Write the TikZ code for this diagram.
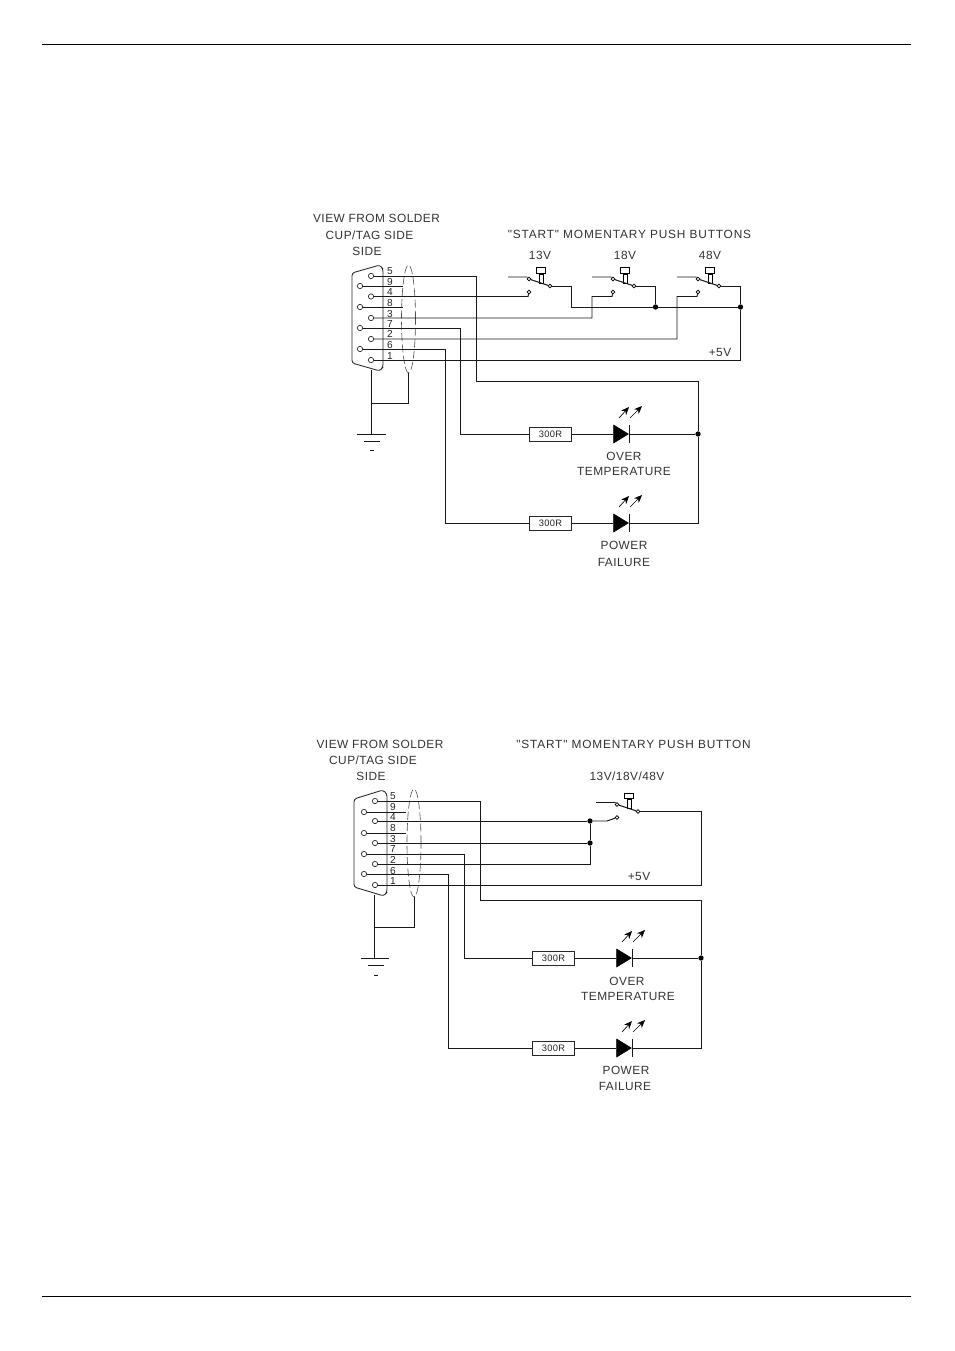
\documentclass[tikz,border=0pt]{standalone}
\usepackage{fontspec}
\newfontfamily\cadfont[LetterSpace=4]{Liberation Sans}
\newfontfamily\headfont[LetterSpace=7]{Liberation Sans}
\usetikzlibrary{shapes.geometric, arrows.meta, positioning}

\tikzset{
  wire/.style={line width=0.72pt, black!90},
  pinhole/.style={draw, circle, inner sep=0pt, minimum size=4pt, line width=0.55pt, black!80},
  pinnum/.style={font=\cadfont\fontsize{7.6}{8}\selectfont, inner sep=0pt, black!85},
  caption/.style={font=\cadfont\fontsize{8.9}{10}\selectfont, inner sep=0pt, black!80},
  headline/.style={font=\headfont\fontsize{8.9}{10}\selectfont, inner sep=0pt, black!80},
  resbox/.style={draw, line width=0.72pt, minimum width=32pt, minimum height=10.5pt, inner sep=0pt, font=\cadfont\fontsize{7}{8}\selectfont, black!85},
  shield/.style={draw, ellipse, dashed, dash pattern=on 6pt off 2.5pt, line width=0.45pt, black!70, minimum width=10.5pt, minimum height=81pt, inner sep=0pt},
  shell/.style={line width=0.65pt, black!85},
  spot/.style={fill, circle, inner sep=0pt, minimum size=4pt},
  contact/.style={draw, circle, inner sep=0pt, minimum size=2.8pt, line width=0.45pt},
  ledbody/.style={fill, draw, isosceles triangle, isosceles triangle stretches, minimum width=13.5pt, minimum height=11pt, inner sep=0pt, anchor=apex},
  knob/.style={draw, line width=0.55pt, inner sep=0pt, minimum width=7pt, minimum height=4pt},
  stem/.style={draw, line width=0.55pt, inner sep=0pt, minimum width=3pt, minimum height=7pt}
}

% name, apex x, y
\newcommand{\ledlamp}[3]{
  \begin{scope}[shift={(#2,#3)}]
    \node[ledbody] (#1) at (0,0) {};
    \coordinate (#1bt) at (0,-9);
    \coordinate (#1bb) at (0,9);
    \draw[wire] (#1bt) -- (#1bb);
    \coordinate (#1ra) at (-10,-16);
    \coordinate (#1rb) at (0,-27);
    \coordinate (#1rc) at (1,-16);
    \coordinate (#1rd) at (13,-28);
    \draw[line width=0.5pt, -{Stealth[length=6pt, width=5pt]}] (#1ra) -- (#1rb);
    \draw[line width=0.5pt, -{Stealth[length=6pt, width=5pt]}] (#1rc) -- (#1rd);
  \end{scope}
}

% name, x and y of the upper contact
\newcommand{\pushsw}[3]{
  \begin{scope}[shift={(#2,#3)}]
    \node[contact] (#1up) at (0,0) {};
    \node[contact] (#1lo) at (0,13) {};
    \node[contact] (#1pv) at (21,7) {};
    \node[knob] (#1kn) at (12,-8.5) {};
    \node[stem, below=0pt of #1kn] (#1st) {};
    \coordinate (#1in) at (-21,-2);
    \draw[wire] (#1up) -- (#1pv);
    \draw[wire] (#1in) -- (-2,-2) -- (#1up);
  \end{scope}
}

\begin{document}
\begin{tikzpicture}[x=0.75pt, y=-0.75pt]
  \fill[white] (0,0) rectangle (954,1351);
  \useasboundingbox (0,0) rectangle (954,1351);

  % page rules
  \coordinate (rulea) at (42,44);
  \coordinate (ruleb) at (911,44);
  \coordinate (rulec) at (42,1296);
  \coordinate (ruled) at (911,1296);
  \draw[wire, black] (rulea) -- (ruleb);
  \draw[wire, black] (rulec) -- (ruled);

  % upper circuit
  \node[caption] (viewa) at (376.5,218) {VIEW FROM SOLDER};
  \node[caption] (cupa) at (369.5,235) {CUP/TAG SIDE};
  \node[caption] (sidea) at (367,251) {SIDE};
  \node[headline] (starta) at (629.5,234) {"START" MOMENTARY PUSH BUTTONS};
  \node[caption] (va) at (540,255) {13V};
  \node[caption] (vb) at (625,255) {18V};
  \node[caption] (vc) at (710,255) {48V};
  \node[caption] (fivea) at (720,352) {+5V};
  \node[caption] (overa) at (624,456) {OVER};
  \node[caption] (tempa) at (624,471) {TEMPERATURE};
  \node[caption] (powa) at (624,545) {POWER};
  \node[caption] (faila) at (624,562) {FAILURE};

  \draw[shell, rounded corners=2pt] (380,265) -- (352,273) -- (352,363) -- (380,371) -- (383,367) -- (383,269) -- cycle;
  \foreach \n/\x/\y in {5/371/276, 4/371/296.5, 3/371/318, 2/371/339, 1/371/360, 9/360/286, 8/360/307, 7/360/328, 6/360/349}
    \node[pinhole] (pa\n) at (\x,\y) {};
  \foreach \n/\y in {5/271, 9/282, 4/292, 8/303, 3/314, 7/324, 2/334, 6/345, 1/356}
    \node[pinnum] (na\n) at (390,\y) {\n};
  \node[shield] (sha) at (408.5,319) {};
  \coordinate (enda9) at (403,286);
  \coordinate (enda8) at (403,307);
  \draw[wire] (pa9) -- (enda9);
  \draw[wire] (pa8) -- (enda8);

  \pushsw{swa}{529}{279}
  \pushsw{swb}{613}{279}
  \pushsw{swc}{698}{279}
  \node[spot] (ja) at (655.5,307) {};
  \node[spot] (jb) at (740.5,307) {};
  \node[spot] (jc) at (698,434) {};

  \draw[wire] (pa4) -- (528,296.5) -- (swalo);
  \draw[wire] (pa3) -- (592,318) -- (592,296.5) -- (612,296.5) -- (swblo);
  \draw[wire] (pa2) -- (677,339) -- (677,296.5) -- (697,296.5) -- (swclo);
  \draw[wire] (pa1) -- (740.5,360) -- (jb);
  \draw[wire] (swapv) -- (571.5,286) -- (571.5,307) -- (ja);
  \draw[wire] (swbpv) -- (655.5,286) -- (ja);
  \draw[wire] (swcpv) -- (740.5,286) -- (jb);
  \draw[wire] (ja) -- (jb);

  \node[resbox] (resa) at (550.5,434) {300R};
  \node[resbox] (resb) at (550.5,523) {300R};
  \ledlamp{leda}{629}{434}
  \ledlamp{ledb}{629}{523}
  \draw[wire] (pa7) -- (460.5,328) -- (460.5,434) -- (resa);
  \draw[wire] (pa6) -- (445.5,349) -- (445.5,523) -- (resb);
  \draw[wire] (resa) -- (leda.west);
  \draw[wire] (resb) -- (ledb.west);
  \draw[wire] (leda.apex) -- (jc);
  \draw[wire] (ledb.apex) -- (698,523) -- (jc);
  \draw[wire] (pa5) -- (476,276) -- (476,381) -- (698,381) -- (jc);

  \coordinate (gnda) at (371,434);
  \coordinate (sheta) at (371,370);
  \coordinate (ga1) at (357,434);
  \coordinate (ga2) at (386,434);
  \coordinate (ga3) at (364,441);
  \coordinate (ga4) at (380,441);
  \coordinate (ga5) at (370,450);
  \coordinate (ga6) at (374,450);
  \draw[wire] (sheta) -- (gnda);
  \draw[wire] (sha.south) -- (408.5,403.5) -- (371,403.5);
  \draw[wire] (ga1) -- (ga2);
  \draw[wire] (ga3) -- (ga4);
  \draw[wire] (ga5) -- (ga6);

  % lower circuit
  \node[caption] (viewb) at (380,744) {VIEW FROM SOLDER};
  \node[caption] (cupb) at (373,760) {CUP/TAG SIDE};
  \node[caption] (sideb) at (371,776) {SIDE};
  \node[headline] (startb) at (633.5,744) {"START" MOMENTARY PUSH BUTTON};
  \node[caption] (vd) at (627,776) {13V/18V/48V};
  \node[caption] (fiveb) at (639,876) {+5V};
  \node[caption] (overb) at (627,981) {OVER};
  \node[caption] (tempb) at (628,996) {TEMPERATURE};
  \node[caption] (powb) at (626,1070) {POWER};
  \node[caption] (failb) at (625,1086) {FAILURE};

  \draw[shell, rounded corners=2pt] (383,790) -- (354,799) -- (354,887) -- (384,896) -- (387,892) -- (387,794) -- cycle;
  \foreach \n/\x/\y in {5/375/801, 4/375/821, 3/375/843, 2/375/864, 1/375/885, 9/364/812, 8/364/833, 7/364/854, 6/364/874}
    \node[pinhole] (pb\n) at (\x,\y) {};
  \foreach \n/\y in {5/796, 9/807, 4/817, 8/828, 3/839, 7/849, 2/860, 6/871, 1/881}
    \node[pinnum] (nb\n) at (393,\y) {\n};
  \node[shield] (shb) at (414,843) {};
  \coordinate (endb9) at (406,812);
  \coordinate (endb8) at (406,833);
  \draw[wire] (pb9) -- (endb9);
  \draw[wire] (pb8) -- (endb8);

  \pushsw{swd}{617}{804.5}
  \node[spot] (jd) at (590,821) {};
  \node[spot] (je) at (590,843) {};
  \node[spot] (jf) at (701,958) {};

  \draw[wire] (pb4) -- (jd);
  \draw[wire] (jd) -- (607,821) -- (swdlo);
  \draw[wire] (pb3) -- (je);
  \draw[wire] (pb2) -- (590,864) -- (je);
  \draw[wire] (je) -- (jd);
  \draw[wire] (pb1) -- (701,885) -- (701,811.5) -- (swdpv);

  \node[resbox] (resc) at (553.5,958) {300R};
  \node[resbox] (resd) at (553.5,1048) {300R};
  \ledlamp{ledc}{632}{958}
  \ledlamp{ledd}{632}{1048}
  \draw[wire] (pb7) -- (464.5,854) -- (464.5,958) -- (resc);
  \draw[wire] (pb6) -- (448,874) -- (448,1048) -- (resd);
  \draw[wire] (resc) -- (ledc.west);
  \draw[wire] (resd) -- (ledd.west);
  \draw[wire] (ledc.apex) -- (jf);
  \draw[wire] (ledd.apex) -- (701,1048) -- (jf);
  \draw[wire] (pb5) -- (480,801) -- (480,900.5) -- (701,900.5) -- (jf);

  \coordinate (gndb) at (374,958);
  \coordinate (shetb) at (374,895);
  \coordinate (gb1) at (361,958);
  \coordinate (gb2) at (389,958);
  \coordinate (gb3) at (368,965);
  \coordinate (gb4) at (384,965);
  \coordinate (gb5) at (374,975);
  \coordinate (gb6) at (378,975);
  \draw[wire] (shetb) -- (gndb);
  \draw[wire] (shb.south) -- (414,927) -- (374,927);
  \draw[wire] (gb1) -- (gb2);
  \draw[wire] (gb3) -- (gb4);
  \draw[wire] (gb5) -- (gb6);
\end{tikzpicture}
\end{document}
